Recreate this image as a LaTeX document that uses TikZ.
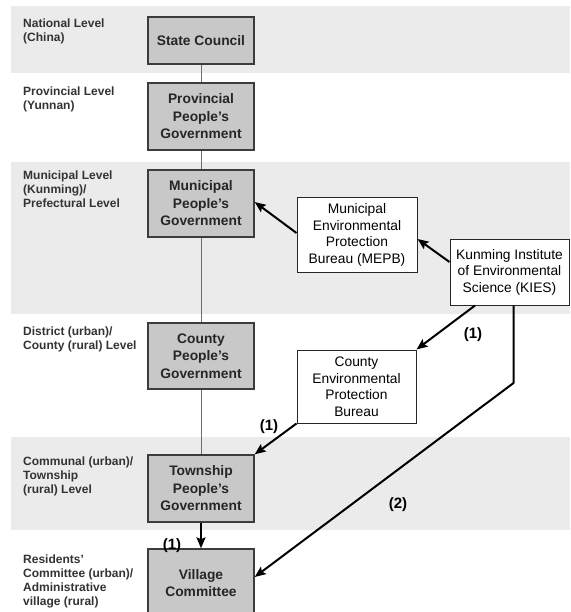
\documentclass[tikz,border=0pt]{standalone}
\usepackage{fontspec}
\setmainfont{Liberation Sans}
\usetikzlibrary{arrows.meta,calc}
\definecolor{band}{HTML}{EBEBEB}
\definecolor{boxfill}{HTML}{C8C8C8}
\definecolor{boxline}{HTML}{3C3C3C}
\definecolor{lvl}{HTML}{333333}
\definecolor{vline}{HTML}{6E6E6E}
\begin{document}
\begin{tikzpicture}[x=1pt,y=-1pt,
 govbox/.style={draw=boxline, line width=1.4pt, fill=boxfill, minimum width=106pt, inner sep=0pt, align=center, font=\fontsize{13.8}{17.5}\selectfont\bfseries, text=black!85},
 agbox/.style={draw=black!85, line width=1pt, fill=white, inner sep=0pt, align=center, font=\fontsize{13.8}{16.5}\selectfont},
 lvltext/.style={anchor=north west, inner sep=0pt, align=left, font=\fontsize{12}{14}\selectfont\bfseries, text=lvl},
 flow/.style={line width=2pt, line join=round, -{Stealth[length=11pt,width=9pt,inset=2pt]}},
 num/.style={font=\fontsize{15}{15}\selectfont\bfseries, inner sep=0pt},
 link/.style={draw=vline, line width=0.8pt}]
\useasboundingbox (0,0) rectangle (570,612);
\clip (0,0) rectangle (570,612);
% level bands
\fill[band] (11,6) rectangle (570,73);
\fill[band] (11,162) rectangle (570,314);
\fill[band] (11,437) rectangle (570,530);
% government boxes
\node[govbox, minimum height=47pt] (sc) at (201,40.5) {State Council};
\node[govbox, minimum height=67pt] (prov) at (201,116.5) {Provincial\\People’s\\Government};
\node[govbox, minimum height=67pt] (muni) at (201,203.5) {Municipal\\People’s\\Government};
\node[govbox, minimum height=66pt] (county) at (201,356) {County\\People’s\\Government};
\node[govbox, minimum height=67pt] (town) at (201,488.5) {Township\\People’s\\Government};
\node[govbox, minimum height=68pt] (vill) at (201,583) {Village\\Committee};
\draw[link] (sc) -- (prov);
\draw[link] (prov) -- (muni);
\draw[link] (muni) -- (county);
\draw[link] (county) -- (town);
\draw[flow] (town) -- (vill);
% level labels
\node[lvltext] (l1) at (23,19) {National Level\\(China)};
\node[lvltext] (l2) at (23,87) {Provincial Level\\(Yunnan)};
\node[lvltext] (l3) at (23,171) {Municipal Level\\(Kunming)/\\Prefectural Level};
\node[lvltext] (l4) at (23,327) {District (urban)/\\County (rural) Level};
\node[lvltext] (l5) at (23,457) {Communal (urban)/\\Township\\(rural) Level};
\node[lvltext] (l6) at (23,555) {Residents’\\Committee (urban)/\\Administrative\\village (rural)};
% agencies
\node[agbox, minimum width=120pt, minimum height=74pt] (mepb) at (357,235) {Municipal\\Environmental\\Protection\\Bureau (MEPB)};
\node[agbox, minimum width=119pt, minimum height=66pt] (kies) at (509.5,272) {Kunming Institute\\of Environmental\\Science (KIES)};
\node[agbox, minimum width=119pt, minimum height=73pt] (cepb) at (356.5,386.5) {County\\Environmental\\Protection\\Bureau};
% arrows
\draw[flow] ([yshift=2pt]mepb.west) -- ([yshift=1.5pt]muni.east);
\draw[flow] ([yshift=10pt]kies.west) -- ([yshift=-4pt]mepb.east);
\draw[flow] ([xshift=-34.5pt]kies.south) -- (cepb.north east);
\draw[flow] (cepb.south west) -- (town.north east);
\coordinate (bend) at (513.5,383);
\draw[flow] ([xshift=4pt]kies.south) -- (bend) -- ([yshift=6pt]vill.east);
% labels
\node[num] (n1) at (473,335) {(1)};
\node[num] (n2) at (269,427) {(1)};
\node[num] (n3) at (398,505) {(2)};
\node[num] (n4) at (172,546) {(1)};
\end{tikzpicture}
\end{document}
